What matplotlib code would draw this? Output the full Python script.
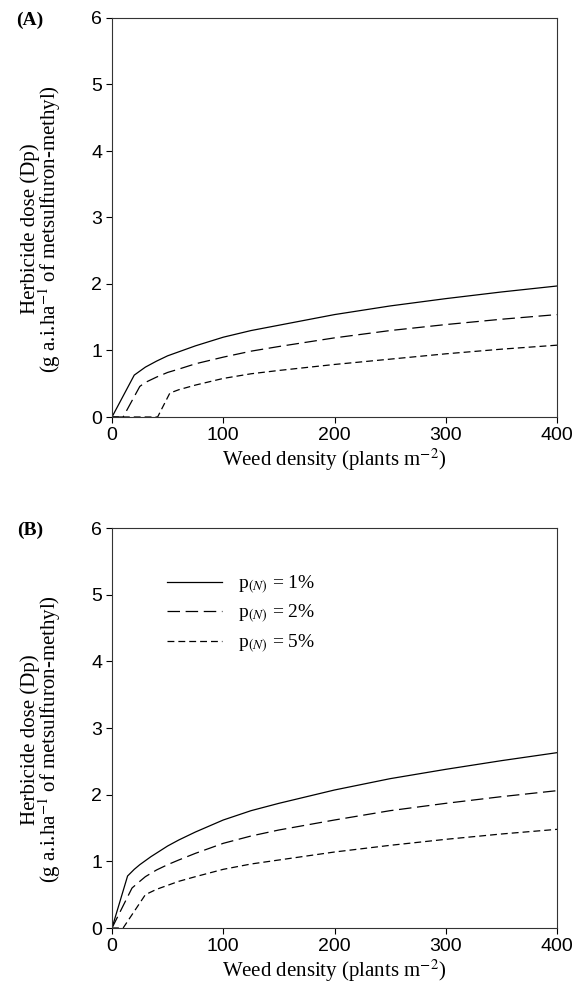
import numpy as np
import matplotlib
matplotlib.use("Agg")
import matplotlib.pyplot as plt

plt.rcParams['mathtext.fontset'] = 'stix'

# panel A
a_x1 = [0, 20, 25, 30, 40, 50, 60, 75, 100, 125, 150, 200, 250, 300, 350, 400]
a_y1 = [0, 0.63, 0.69, 0.75, 0.84, 0.92, 0.98, 1.07, 1.20, 1.30, 1.38, 1.54, 1.67, 1.78, 1.88, 1.97]
a_x2 = [0, 10, 25, 30, 40, 50, 60, 75, 100, 125, 150, 200, 250, 300, 350, 400]
a_y2 = [0, 0, 0.46, 0.52, 0.60, 0.67, 0.72, 0.80, 0.90, 0.99, 1.06, 1.19, 1.30, 1.39, 1.47, 1.54]
a_x5 = [0, 41, 52, 60, 75, 100, 125, 150, 200, 250, 300, 350, 400]
a_y5 = [0, 0, 0.36, 0.41, 0.48, 0.58, 0.65, 0.70, 0.79, 0.87, 0.95, 1.02, 1.08]

# panel B
b_x1 = [0, 14, 20, 25, 35, 50, 60, 75, 100, 125, 150, 200, 250, 300, 350, 400]
b_y1 = [0, 0.78, 0.88, 0.95, 1.07, 1.23, 1.32, 1.44, 1.62, 1.76, 1.87, 2.07, 2.24, 2.38, 2.51, 2.63]
b_x2 = [0, 18, 25, 30, 40, 50, 60, 75, 100, 125, 150, 200, 250, 300, 350, 400]
b_y2 = [0, 0.60, 0.70, 0.77, 0.87, 0.95, 1.02, 1.12, 1.27, 1.38, 1.47, 1.62, 1.76, 1.87, 1.97, 2.06]
b_x5 = [0, 10, 30, 40, 50, 60, 75, 100, 125, 150, 200, 250, 300, 350, 400]
b_y5 = [0, 0, 0.50, 0.58, 0.64, 0.70, 0.77, 0.88, 0.96, 1.02, 1.14, 1.24, 1.33, 1.41, 1.48]

labels = ['p$_{\\mathit{(N)}}$ = 1%', 'p$_{\\mathit{(N)}}$ = 2%', 'p$_{\\mathit{(N)}}$ = 5%']
styles = ['-', (0, (10, 4.5)), (0, (5.5, 3.2))]

serif = 'Liberation Serif'
sans = 'Liberation Sans'

fig = plt.figure(figsize=(5.78, 9.96), dpi=100)
axA = fig.add_axes([112/578, (996-417)/996, 445/578, 399/996])
axB = fig.add_axes([112/578, (996-928)/996, 445/578, 400/996])

panels = [
    (axA, '(A)', [(a_x1, a_y1), (a_x2, a_y2), (a_x5, a_y5)]),
    (axB, '(B)', [(b_x1, b_y1), (b_x2, b_y2), (b_x5, b_y5)]),
]

for ax, tag, series in panels:
    for (xs, ys), ls, lab in zip(series, styles, labels):
        ax.plot(xs, ys, color='black', linestyle=ls, linewidth=0.9, label=lab)
    ax.set_xlim(0, 400)
    ax.set_ylim(0, 6)
    ax.set_xticks([0, 100, 200, 300, 400])
    ax.set_yticks(range(7))
    ax.tick_params(direction='out', length=4, width=0.8, labelsize=14, pad=3)
    for t in ax.get_xticklabels() + ax.get_yticklabels():
        t.set_fontfamily(sans)
    for s in ax.spines.values():
        s.set_linewidth(0.8)
        s.set_color('#333333')
    ax.set_xlabel('Weed density (plants m$^{-2}$)', fontfamily=serif, fontsize=15, labelpad=2)
    ax.set_ylabel('Herbicide dose (Dp)\n(g a.i.ha$^{-1}$ of metsulfuron-methyl)',
                  fontfamily=serif, fontsize=15, linespacing=0.8)
    ax.yaxis.set_label_coords(-0.11, 0.472)
    ax.text(-0.184, 0.995, tag, transform=ax.transAxes, fontfamily=serif,
            fontweight='bold', fontsize=14, ha='center', va='center')

leg = axB.legend(loc='upper left', bbox_to_anchor=(0.084, 0.929), frameon=False,
                 handlelength=2.83, handletextpad=0.82, labelspacing=0.36,
                 prop={'family': serif, 'size': 14})

fig.savefig('out.png', dpi=100)
